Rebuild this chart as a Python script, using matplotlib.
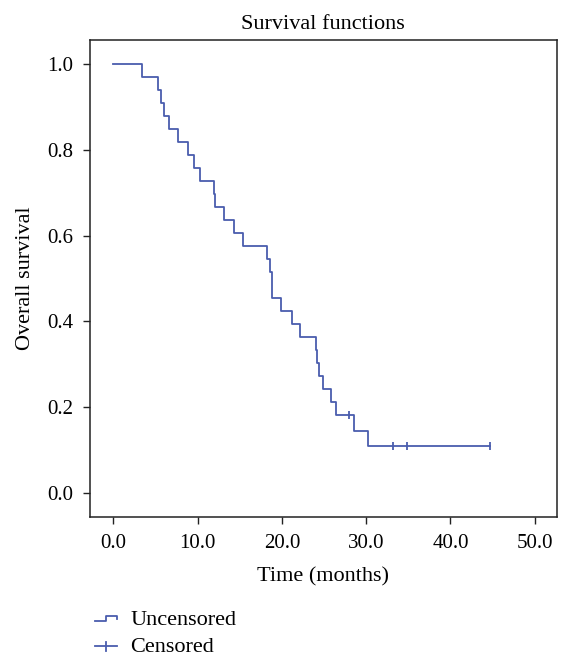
import numpy as np
import matplotlib
matplotlib.use("Agg")
import matplotlib.pyplot as plt
from matplotlib.lines import Line2D
from matplotlib.legend_handler import HandlerBase

# Patient follow-up times (months) and event flags (1 = death, 0 = censored)
times = [3.4, 5.3, 5.6, 6.0, 6.6, 7.7, 8.9, 9.6, 10.3, 11.9, 12.05, 13.15, 14.3, 15.4,
         18.2, 18.6, 18.8, 18.8, 19.9, 21.2, 22.2,
         24.0, 24.15, 24.4, 24.9, 25.8, 26.4,
         27.9, 28.5, 30.25, 33.2, 34.8, 44.7]
events = [1, 1, 1, 1, 1, 1, 1, 1, 1, 1, 1, 1, 1, 1,
          1, 1, 1, 1, 1, 1, 1,
          1, 1, 1, 1, 1, 1,
          0, 1, 1, 0, 0, 0]
xticks = [0, 10, 20, 30, 40, 50]
yticks = [0.0, 0.2, 0.4, 0.6, 0.8, 1.0]

# Kaplan-Meier estimate
t = np.array(times)
e = np.array(events)
order = np.argsort(t, kind="stable")
t, e = t[order], e[order]
n = len(t)
uniq = np.unique(t)
step_x = [0.0]
step_y = [1.0]
cens_x, cens_y = [], []
s = 1.0
at_risk = n
for u in uniq:
    mask = t == u
    d = int(e[mask].sum())
    c = int((1 - e[mask]).sum())
    if d > 0:
        s = s * (at_risk - d) / at_risk
    step_x.append(u)
    step_y.append(s)
    if c > 0:
        cens_x.append(u)
        cens_y.append(s)
    at_risk -= d + c
step_x.append(max(t))
step_y.append(s)

color = "#4A5DAE"
plt.rcParams["font.family"] = ["Liberation Serif", "DejaVu Serif"]

fig = plt.figure(figsize=(5.72, 6.67), dpi=100)
ax = fig.add_axes([90 / 572, 1 - 517.3 / 667, (556.7 - 90) / 572, (517.3 - 40) / 667])
ax.step(step_x, step_y, where="post", color=color, lw=1.3)
ax.plot(cens_x, cens_y, linestyle="none", marker="|", markersize=6, mew=1.3, color=color)

ax.set_xlim(-2.77, 52.6)
ax.set_ylim(-0.0566, 1.056)
ax.set_xticks(xticks)
ax.set_xticklabels([f"{v:.1f}" for v in xticks])
ax.set_yticks(yticks)
ax.set_yticklabels([f"{v:.1f}" for v in yticks])
ax.tick_params(direction="out", length=5, width=1, labelsize=15, color="#222222", pad=7)
for sp in ax.spines.values():
    sp.set_linewidth(1.1)
    sp.set_color("#222222")
ax.set_title("Survival functions", fontsize=16, pad=8)
ax.set_xlabel("Time (months)", fontsize=16, labelpad=10)
ax.set_ylabel("Overall survival", fontsize=16, labelpad=9)


class StepHandler(HandlerBase):
    def create_artists(self, legend, orig_handle, xdescent, ydescent, width, height, fontsize, trans):
        x0, x1 = -xdescent, -xdescent + width
        y0 = -ydescent + height * 0.25
        y1 = -ydescent + height * 0.55
        xm = x0 + width * 0.5
        ln = Line2D([x0, xm, xm, x1, x1], [y0, y0, y1, y1, y0 + (y1 - y0) * 0.35],
                    color=color, lw=1.3, transform=trans)
        return [ln]


class CrossHandler(HandlerBase):
    def create_artists(self, legend, orig_handle, xdescent, ydescent, width, height, fontsize, trans):
        x0, x1 = -xdescent, -xdescent + width
        ym = -ydescent + height * 0.35
        xm = (x0 + x1) / 2
        h = Line2D([x0, x1], [ym, ym], color=color, lw=1.3, transform=trans)
        v = Line2D([xm, xm], [ym - height * 0.3, ym + height * 0.3], color=color, lw=1.3, transform=trans)
        return [h, v]


h1 = Line2D([], [], color=color)
h2 = Line2D([], [], color=color, marker="+")
fig.legend([h1, h2], ["Uncensored", "Censored"],
           handler_map={h1: StepHandler(), h2: CrossHandler()},
           loc="upper left", bbox_to_anchor=(95 / 572, 1 - 609 / 667),
           frameon=False, fontsize=16, handlelength=1.0, handletextpad=0.6,
           labelspacing=0.3, borderaxespad=0, borderpad=0)

fig.savefig("out.png", dpi=100)
